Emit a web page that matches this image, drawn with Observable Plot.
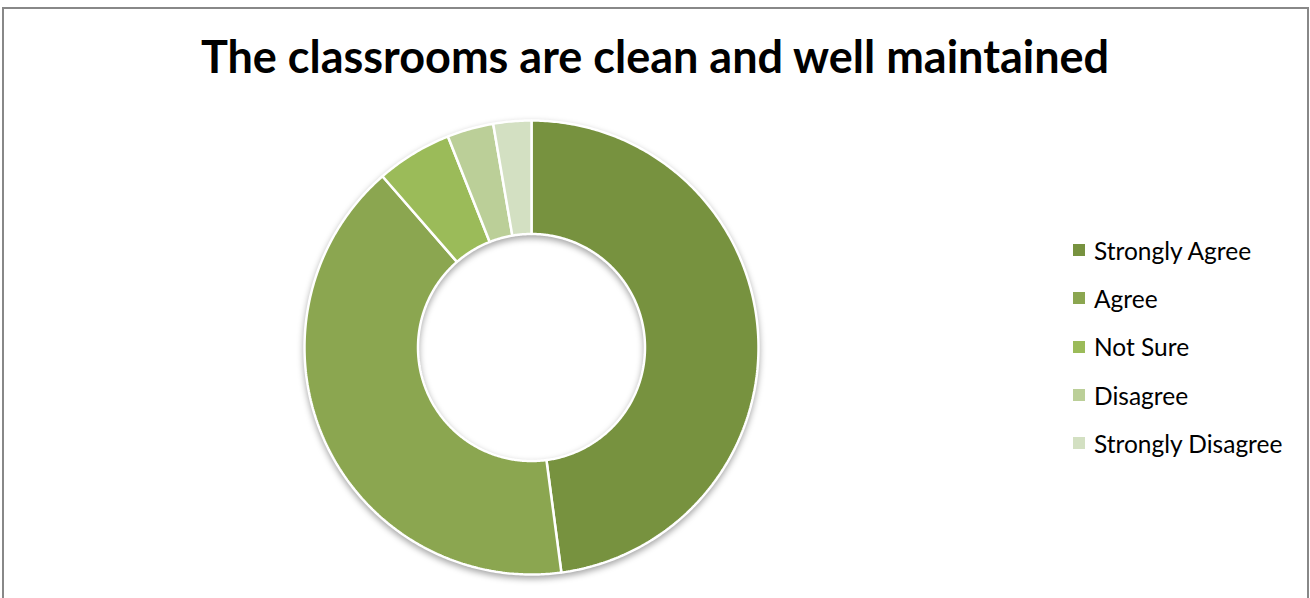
<!DOCTYPE html>
<html>
<head>
<meta charset="utf-8">
<script src="https://cdn.jsdelivr.net/npm/d3@7"></script>
<script src="https://cdn.jsdelivr.net/npm/@observablehq/plot@0.6"></script>
<style>
  html, body { margin: 0; padding: 0; background: #fff; overflow: hidden; }
  body { width: 1310px; height: 598px; position: relative; font-family: Lato, "Open Sans", sans-serif; }
  #frame { position: absolute; left: 2px; top: 7px; width: 1303px; height: 620px; border: 2px solid #888; border-bottom: none; }
  #title { position: absolute; left: 0; width: 1310px; top: 29px; text-align: center; font-weight: bold; font-size: 45px; color: #000; white-space: nowrap; }
  #chart { position: absolute; left: 0; top: 110px; }
  #legend { position: absolute; left: 1073px; top: 226px; }
  .item { display: flex; align-items: center; height: 48.3px; font-size: 24.5px; color: #000; white-space: nowrap; }
  .sw { width: 12px; height: 12px; margin-right: 9px; }
  .donut g[aria-label="line"] { filter: drop-shadow(0px 3px 3px rgba(0,0,0,0.35)); }
</style>
</head>
<body>
<div id="frame"></div>
<div id="title">The classrooms are clean and well maintained</div>
<div id="chart"></div>
<div id="legend"></div>
<script>
const categories = ["Strongly Agree", "Agree", "Not Sure", "Disagree", "Strongly Disagree"];
const values = [47.9, 40.7, 5.4, 3.3, 2.7];
const colors = ["#77923f", "#8ba650", "#9bbb59", "#bbcf98", "#d3e0c2"];

const innerRatio = 0.5;
const pie = d3.pie().sort(null).value(d => d.value)(categories.map((c, i) => ({category: c, value: values[i]})));

// build slice outlines (in unit-circle data space) from the pie angles
const pts = [];
for (const arc of pie) {
  const n = Math.max(4, Math.ceil((arc.endAngle - arc.startAngle) / 0.01));
  const ring = [];
  for (let k = 0; k <= n; k++) {
    const a = arc.startAngle + (arc.endAngle - arc.startAngle) * k / n;
    ring.push({category: arc.data.category, x: Math.sin(a), y: Math.cos(a)});
  }
  for (let k = n; k >= 0; k--) {
    const a = arc.startAngle + (arc.endAngle - arc.startAngle) * k / n;
    ring.push({category: arc.data.category, x: innerRatio * Math.sin(a), y: innerRatio * Math.cos(a)});
  }
  pts.push(...ring);
}

const plot = Plot.plot({
  className: "donut",
  width: 1310,
  height: 488,
  marginLeft: 304,
  marginRight: 552,
  marginTop: 10,
  marginBottom: 24,
  x: {domain: [-1, 1], axis: null},
  y: {domain: [-1, 1], axis: null},
  color: {domain: categories, range: colors},
  marks: [
    Plot.line(pts, {x: "x", y: "y", z: "category", fill: "category", stroke: "white", strokeWidth: 2.5, curve: "linear-closed", strokeLinejoin: "miter"})
  ]
});
document.getElementById("chart").appendChild(plot);

const legend = document.getElementById("legend");
categories.forEach((c, i) => {
  const item = document.createElement("div");
  item.className = "item";
  const sw = document.createElement("div");
  sw.className = "sw";
  sw.style.background = colors[i];
  const t = document.createElement("span");
  t.textContent = c;
  item.appendChild(sw);
  item.appendChild(t);
  legend.appendChild(item);
});
</script>
</body>
</html>
